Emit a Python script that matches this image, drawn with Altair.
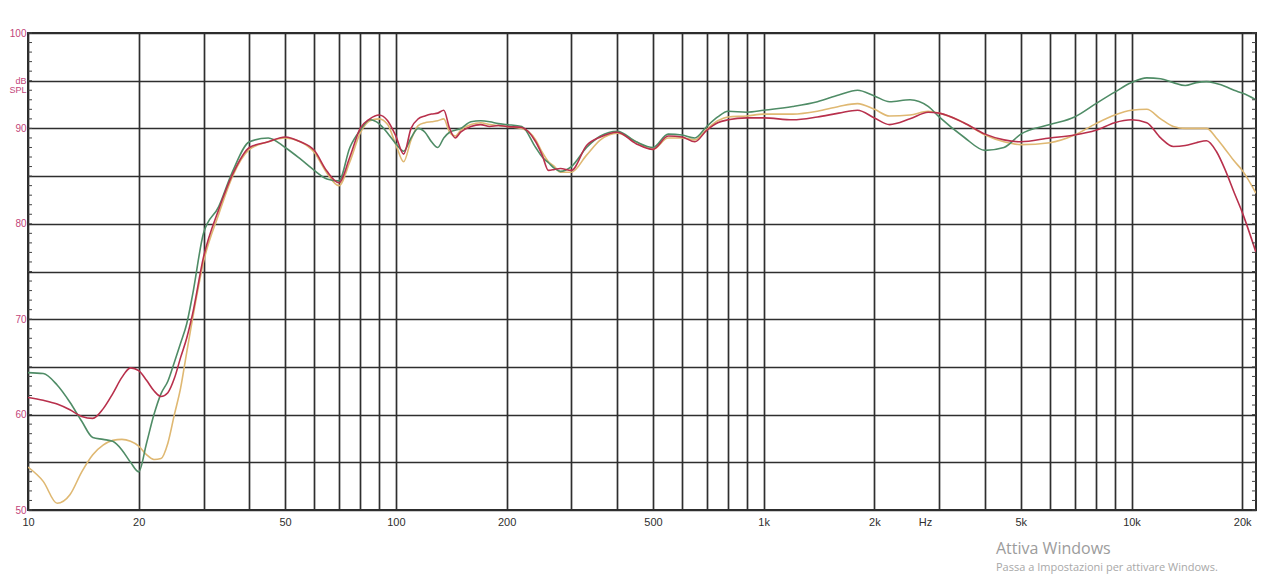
import altair as alt
import pandas as pd

# Frequencies (Hz) at which the curves were read
freqs = [10, 11, 12, 13, 14, 15, 16, 17, 18, 19, 20, 21, 22, 23, 24, 25, 26, 27, 28,
         30, 33, 36, 40, 45, 50, 55, 60, 65, 70, 75, 80, 85, 90, 95,
         100, 105, 110, 115, 120, 125, 130, 135, 140, 145, 150, 160, 170, 180, 190,
         200, 220, 240, 250, 260, 270, 280, 300, 330, 360, 400, 450, 500, 550, 600, 650, 700, 750, 800, 900,
         1000, 1200, 1400, 1600, 1800, 2000, 2200, 2500, 2800, 3000, 3500, 4000, 4500, 5000, 6000, 7000, 8000, 9000,
         10000, 11000, 12000, 13000, 14000, 15000, 16000, 17000, 18000, 19000, 20000, 21800]

red_db = [61.8, 61.5, 61.1, 60.5, 59.8, 59.6, 60.6, 62.2, 63.9, 64.9, 64.6, 63.6, 62.5, 61.9, 62.3, 63.8, 66.0, 68.0, 70.5,
          76.5, 81.5, 85.2, 88.0, 88.6, 89.1, 88.6, 87.7, 85.5, 84.3, 87.0, 90.0, 91.0, 91.4, 90.8,
          89.2, 87.3, 90.0, 91.0, 91.3, 91.5, 91.6, 91.9, 90.0, 89.0, 89.6, 90.2, 90.4, 90.2, 90.3,
          90.2, 90.1, 88.6, 87.2, 85.6, 85.7, 85.8, 85.6, 88.2, 89.1, 89.6, 88.4, 87.8, 89.2, 89.1, 88.6, 89.8, 90.6, 90.9, 91.1,
          91.1, 90.9, 91.2, 91.6, 91.9, 91.1, 90.4, 91.0, 91.7, 91.6, 90.6, 89.4, 88.8, 88.6, 89.0, 89.3, 89.8, 90.6,
          90.9, 90.6, 89.0, 88.1, 88.2, 88.5, 88.7, 87.6, 85.6, 83.3, 81.2, 77.0]

green_db = [64.4, 64.3, 63.1, 61.3, 59.3, 57.6, 57.4, 57.2, 56.3, 55.0, 54.0, 57.0, 60.0, 62.2, 63.5, 65.5, 67.5, 69.5, 72.5,
            79.0, 81.8, 85.5, 88.6, 89.0, 88.0, 86.8, 85.6, 84.7, 84.5, 88.0, 89.8, 90.9, 90.5, 89.5,
            88.4, 87.6, 89.0, 90.0, 89.6, 88.6, 88.0, 89.0, 89.6, 89.8, 90.0, 90.7, 90.8, 90.7, 90.5,
            90.4, 90.2, 88.0, 87.0, 86.4, 85.8, 85.5, 86.0, 88.0, 89.2, 89.7, 88.6, 88.0, 89.4, 89.3, 89.0, 90.2, 91.2, 91.8, 91.7,
            91.9, 92.3, 92.8, 93.5, 94.0, 93.4, 92.8, 93.0, 92.3, 91.2, 89.1, 87.7, 88.0, 89.4, 90.4, 91.2, 92.6, 93.8,
            94.8, 95.3, 95.2, 94.8, 94.5, 94.8, 94.9, 94.7, 94.4, 94.0, 93.7, 93.0]

tan_db = [54.5, 53.0, 50.7, 51.6, 54.0, 55.8, 56.8, 57.3, 57.4, 57.2, 56.7, 55.8, 55.3, 55.4, 57.0, 60.0, 62.8, 66.5, 70.0,
          76.0, 81.0, 85.0, 87.8, 88.6, 89.0, 88.6, 87.5, 85.3, 84.0, 86.5, 89.5, 90.8, 91.0, 90.4,
          88.3, 86.5, 88.8, 90.3, 90.6, 90.7, 90.8, 91.0, 89.6, 89.2, 89.8, 90.4, 90.6, 90.4, 90.3,
          90.2, 90.0, 88.8, 87.5, 86.5, 86.0, 85.4, 85.4, 87.2, 88.8, 89.5, 88.6, 87.8, 89.0, 89.0, 88.8, 89.9, 90.8, 91.2, 91.3,
          91.5, 91.5, 91.8, 92.3, 92.6, 92.0, 91.3, 91.4, 91.8, 91.6, 90.6, 89.3, 88.6, 88.3, 88.5, 89.3, 90.5, 91.4,
          91.9, 92.0, 91.0, 90.2, 90.0, 90.0, 90.0, 89.0, 87.8, 86.6, 85.6, 83.2]

curve_names = ["tan", "green", "red"]
curve_colors = ["#dfb872", "#4f8c66", "#b8304c"]

x_grid = [10, 20, 30, 40, 50, 60, 70, 80, 90, 100, 200, 300, 400, 500, 600, 700, 800, 900,
          1000, 2000, 3000, 4000, 5000, 6000, 7000, 8000, 9000, 10000, 20000]
x_labels = [10, 20, 50, 100, 200, 500, 1000, 2000, 5000, 10000, 20000]
y_grid = [50, 55, 60, 65, 70, 75, 80, 85, 90, 95, 100]
y_minor = list(range(50, 101))

rows = []
for name, vals in zip(curve_names, [tan_db, green_db, red_db]):
    for f, v in zip(freqs, vals):
        rows.append({"freq": f, "db": v, "curve": name})
df = pd.DataFrame(rows)

W, H = 1228, 477
xscale = alt.Scale(type="log", domain=[10, 21800], nice=False)
yscale = alt.Scale(domain=[50, 100], nice=False, zero=False)
cscale = alt.Scale(domain=curve_names, range=curve_colors)

label_list = "[" + ",".join(str(v) for v in x_labels) + "]"
x_axis = alt.Axis(
    values=x_grid, grid=True, ticks=False, domain=False,
    labelExpr=f"indexof({label_list}, datum.value) >= 0 ? (datum.value >= 1000 ? (datum.value/1000) + 'k' : datum.value + '') : ''",
    labelFlush=False, labelOverlap=False, labelBound=False,
    labelPadding=6, labelFontSize=11, labelColor="#2e2e2e", labelFont="Liberation Sans",
    title="Hz", titleX=897, titleY=6, titleBaseline="top", titleFontSize=11,
    titleFontWeight="normal", titleColor="#2e2e2e", titleFont="Liberation Sans",
)
y_axis = alt.Axis(
    values=y_grid, grid=True, ticks=False, domain=False,
    labelExpr="datum.value == 95 ? ['dB', 'SPL'] : (datum.value % 10 == 0 ? datum.label : '')",
    labelPadding=2, labelFontSize={"condition": {"test": "datum.value == 95", "value": 9}, "value": 10},
    labelLineHeight=9,
    labelColor="#c2457a", labelFont="Liberation Sans",
    labelOverlap=False, labelFlush=False, title=None,
)

base = alt.Chart(df)
layers = []
for name in curve_names:
    layers.append(
        base.transform_filter(alt.datum.curve == name)
        .mark_line(strokeWidth=1.6, clip=True, interpolate="monotone")
        .encode(
            x=alt.X("freq:Q", scale=xscale, axis=x_axis),
            y=alt.Y("db:Q", scale=yscale, axis=y_axis),
            color=alt.Color("curve:N", scale=cscale, legend=None),
        )
    )

minor_df = pd.DataFrame({"db": y_minor})
minor_left = alt.Chart(minor_df).mark_rule(color="#444444", strokeWidth=1).encode(
    y=alt.Y("db:Q", scale=yscale, axis=y_axis), x=alt.value(0), x2=alt.value(4)
)
minor_right = alt.Chart(minor_df).mark_rule(color="#444444", strokeWidth=1).encode(
    y=alt.Y("db:Q", scale=yscale, axis=y_axis), x=alt.value(W - 4), x2=alt.value(W)
)

wm_df = pd.DataFrame({"t1": ["Attiva Windows"], "t2": ["Passa a Impostazioni per attivare Windows."]})
wm1 = alt.Chart(wm_df).mark_text(align="left", baseline="middle", fontSize=16, color="#9c9c9c",
                                 font="Open Sans").encode(text="t1:N", x=alt.value(968), y=alt.value(516))
wm2 = alt.Chart(wm_df).mark_text(align="left", baseline="middle", fontSize=11, color="#a8a8a8",
                                 font="Open Sans").encode(text="t2:N", x=alt.value(968), y=alt.value(535))

chart = alt.layer(*layers, minor_left, minor_right, wm1, wm2).properties(
    width=W, height=H,
    autosize=alt.AutoSizeParams(type="none"),
    padding={"left": 20, "top": 25, "right": 10, "bottom": 70},
    background="white",
).configure_view(stroke="#2e2e2e", strokeWidth=2).configure_axis(
    gridColor="#2e2e2e", gridWidth=1.7, gridOpacity=1
)

chart.save("out.html", embed_options={"renderer": "svg", "actions": False})
